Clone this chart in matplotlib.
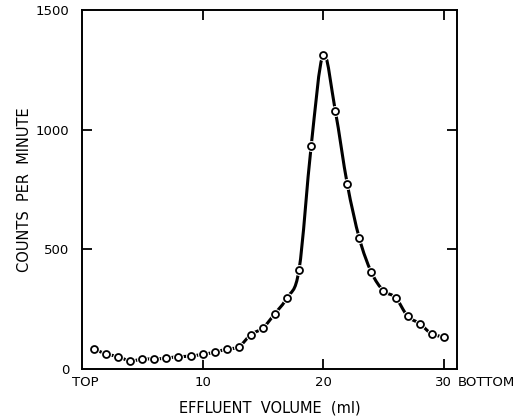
"""
Elution profile: counts per minute vs effluent volume
"""

import matplotlib
matplotlib.use('Agg')
import matplotlib.pyplot as plt
from matplotlib.path import Path
from matplotlib.patches import PathPatch
import numpy as np

plt.rcParams['font.family'] = ['DejaVu Sans']

# fraction volume (ml) and counts per minute
volume = [1, 2, 3, 4, 5, 6, 7, 8, 9, 10,
          11, 12, 13, 14, 15, 16, 17, 18, 19, 20,
          21, 22, 23, 24, 25, 26, 27, 28, 29, 30]
counts = [84, 63, 52, 34, 42, 42, 46, 52, 54, 62,
          70, 84, 93, 144, 172, 232, 298, 416, 930, 1313,
          1080, 772, 546, 404, 327, 299, 221, 190, 147, 135]

x_ticks = [10, 20, 30]
x_tick_labels = ['10', '20', '30']
y_ticks = [0, 500, 1000, 1500]
y_tick_labels = ['0', '500', '1000', '1500']

FS = 9.5

fig = plt.figure(figsize=(5.29, 4.18), dpi=100)
ax = fig.add_axes([0.155, 0.117, 0.709, 0.859])

# smooth hand-drawn style curve through the points (Catmull-Rom as Bezier segments)
pts = np.column_stack([volume, counts]).astype(float)
verts = [tuple(pts[0])]
codes = [Path.MOVETO]
for i in range(len(pts) - 1):
    p0 = pts[max(i - 1, 0)]
    p1 = pts[i]
    p2 = pts[i + 1]
    p3 = pts[min(i + 2, len(pts) - 1)]
    c1 = p1 + (p2 - p0) / 6.0
    c2 = p2 - (p3 - p1) / 6.0
    verts += [tuple(c1), tuple(c2), tuple(p2)]
    codes += [Path.CURVE4] * 3
curve = PathPatch(Path(verts, codes), facecolor='none', edgecolor='black',
                  linewidth=2.2, capstyle='round', zorder=2)
ax.add_patch(curve)

# white halo so the line breaks around each circle
ax.plot(volume, counts, linestyle='none', marker='o', markersize=6.8,
        markerfacecolor='white', markeredgecolor='white', zorder=3)
ax.plot(volume, counts, linestyle='none', marker='o', markersize=5.0,
        markerfacecolor='white', markeredgecolor='black',
        markeredgewidth=1.3, zorder=4)

ax.set_xlim(0, 31.1)
ax.set_ylim(0, 1500)

ax.set_xticks(x_ticks)
ax.set_xticklabels(x_tick_labels)
ax.set_yticks(y_ticks)
ax.set_yticklabels(y_tick_labels)

ax.tick_params(axis='both', direction='in', length=7, width=1.3,
               top=True, right=True, labelsize=FS)
ax.tick_params(axis='x', pad=5)
ax.tick_params(axis='y', pad=9)
# no visible tick marks at the axis ends
for t in ax.yaxis.get_major_ticks():
    if t.get_loc() in (0, 1500):
        t.tick1line.set_visible(False)
        t.tick2line.set_visible(False)

for s in ax.spines.values():
    s.set_linewidth(1.4)

# end labels of the volume axis
ax.text(0.27, -0.036, 'TOP', transform=ax.get_xaxis_transform(),
        ha='center', va='center', fontsize=FS)
ax.text(31.15, -0.036, 'BOTTOM', transform=ax.get_xaxis_transform(),
        ha='left', va='center', fontsize=FS)

ax.set_xlabel('EFFLUENT  VOLUME  (ml)', fontsize=10.5, labelpad=8)
ax.set_ylabel('COUNTS  PER  MINUTE', fontsize=10.5, labelpad=3)

plt.savefig('out.png', dpi=100)
plt.close()
